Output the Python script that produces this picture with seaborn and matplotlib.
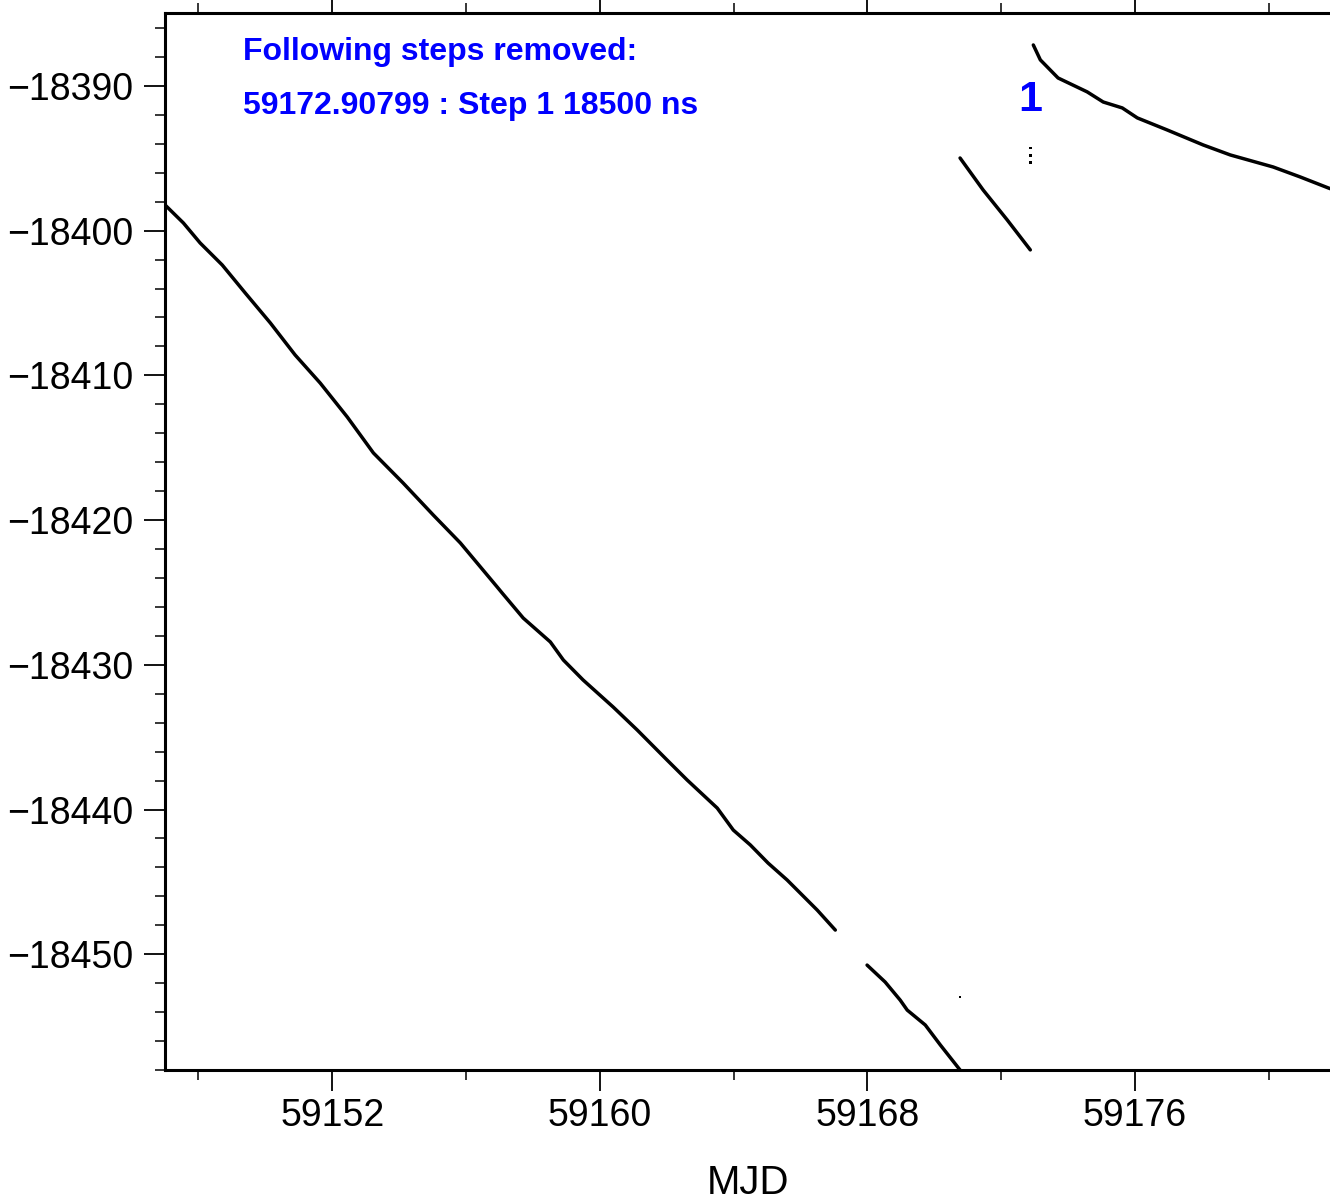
import numpy as np
import pandas as pd
import matplotlib
matplotlib.use("Agg")
import matplotlib.pyplot as plt
from matplotlib.ticker import MultipleLocator
import seaborn as sns

# ---- data ----
seg1_mjd = [59147.00, 59147.55, 59148.05, 59148.71, 59149.40, 59150.15, 59150.89, 59151.64,
            59152.45, 59153.23, 59154.12, 59155.02, 59155.83, 59156.93, 59157.08, 59157.71,
            59158.52, 59158.91, 59159.50, 59160.40, 59161.12, 59162.01, 59162.61, 59163.51,
            59163.99, 59164.50, 59165.03, 59165.60, 59166.50, 59167.04]
seg1_val = [-18398.22, -18399.47, -18400.85, -18402.37, -18404.31, -18406.38, -18408.59, -18410.53,
            -18412.88, -18415.36, -18417.44, -18419.65, -18421.58, -18424.62, -18425.04, -18426.77,
            -18428.42, -18429.67, -18431.05, -18432.92, -18434.51, -18436.58, -18437.96, -18439.90,
            -18441.42, -18442.45, -18443.70, -18444.87, -18446.95, -18448.33]

seg2_mjd = [59167.99, 59168.53, 59168.98, 59169.19, 59169.73, 59170.18, 59170.77, 59171.10]
seg2_val = [-18450.75, -18451.92, -18453.17, -18453.86, -18454.89, -18456.27, -18458.00, -18459.40]

seg3_mjd = [59170.77, 59171.46, 59172.18, 59172.87]
seg3_val = [-18394.98, -18397.19, -18399.26, -18401.33]

seg4_mjd = [59172.96, 59173.17, 59173.70, 59174.57, 59175.05, 59175.62, 59176.07, 59176.96,
            59178.04, 59178.85, 59180.13, 59180.94, 59181.78, 59182.20]
seg4_val = [-18387.17, -18388.20, -18389.45, -18390.41, -18391.11, -18391.52, -18392.21, -18393.04,
            -18394.08, -18394.77, -18395.60, -18396.29, -18397.05, -18397.40]

dots_mjd = [59172.87, 59172.87, 59172.87, 59170.77]
dots_val = [-18394.3, -18394.8, -18395.3, -18452.96]

step_mjd = 59172.87
step_label = "1"
step_label_y = -18391.0
notes = ["Following steps removed:", "59172.90799 : Step 1 18500 ns"]

x_major = 8
x_minor = 4
y_major = 10
y_minor = 2
xlim = (59147.0, 59181.83)
ylim = (-18458.0, -18384.96)

# ---- build frame ----
frames = []
for i, (m, v) in enumerate([(seg1_mjd, seg1_val), (seg2_mjd, seg2_val),
                            (seg3_mjd, seg3_val), (seg4_mjd, seg4_val)]):
    frames.append(pd.DataFrame({"MJD": m, "val": v, "seg": i}))
df = pd.concat(frames, ignore_index=True)
dots = pd.DataFrame({"MJD": dots_mjd, "val": dots_val})

sns.set_theme(style="white")
plt.rcParams['font.family'] = ['Liberation Sans', 'DejaVu Sans']

fig = plt.figure(figsize=(13.3, 12), dpi=100)
ax = fig.add_axes([165/1330, 1 - 1070/1200, 1 - 165/1330, (1070 - 13)/1200])

sns.lineplot(data=df, x="MJD", y="val", units="seg", estimator=None, sort=False,
             color="black", linewidth=2.5, ax=ax, legend=False)
sns.scatterplot(data=dots, x="MJD", y="val", color="black", s=3, marker="s",
                edgecolor="none", ax=ax, legend=False)

ax.set_xlim(*xlim)
ax.set_ylim(*ylim)
ax.xaxis.set_major_locator(MultipleLocator(x_major))
ax.xaxis.set_minor_locator(MultipleLocator(x_minor))
ax.yaxis.set_major_locator(MultipleLocator(y_major))
ax.yaxis.set_minor_locator(MultipleLocator(y_minor))
ax.xaxis.set_major_formatter(matplotlib.ticker.FuncFormatter(lambda v, p: f"{v:.0f}"))
ax.yaxis.set_major_formatter(matplotlib.ticker.FuncFormatter(lambda v, p: f"{v:.0f}".replace("-", "\u2212")))

ax.tick_params(axis="x", which="major", direction="out", length=15, width=1.3,
               labelsize=27, pad=5, top=True, bottom=True, color="black", labelcolor="black")
ax.tick_params(axis="x", which="minor", direction="out", length=7, width=1.1, top=True, bottom=True,
               color="black")
ax.tick_params(axis="y", which="major", direction="out", length=15, width=1.3,
               labelsize=27, pad=8, left=True, color="black", labelcolor="black")
ax.tick_params(axis="y", which="minor", direction="out", length=7, width=1.1, left=True,
               color="black")

for s in ["left", "bottom", "top"]:
    ax.spines[s].set_visible(True)
    ax.spines[s].set_linewidth(2.2)
    ax.spines[s].set_color("black")
ax.spines["right"].set_visible(False)

ax.set_xlabel("MJD", fontsize=29, labelpad=22, color="black")
ax.set_ylabel("")

fig.text(243/1330, 1 - 60/1200, notes[0], color="#0000ff", fontsize=23, fontweight="bold",
         ha="left", va="baseline")
fig.text(243/1330, 1 - 114/1200, notes[1], color="#0000ff", fontsize=23, fontweight="bold",
         ha="left", va="baseline")
ax.text(step_mjd, step_label_y, step_label, color="#0000ff", fontsize=31, fontweight="bold",
        ha="center", va="center")

fig.savefig("out.png", dpi=100)
